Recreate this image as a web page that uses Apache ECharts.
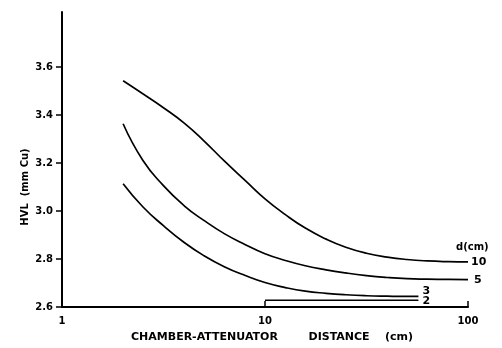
<!DOCTYPE html>
<html>
<head>
<meta charset="utf-8">
<script src="https://cdn.jsdelivr.net/npm/echarts@6/dist/echarts.min.js"></script>
<style>
html,body{margin:0;padding:0;background:#fff;}
#c{width:502px;height:348px;}
</style>
</head>
<body>
<div id="c"></div>
<script>
// ---- data ----
const xTickLabels = ['1', '10', '100'];
const yTickValues = [2.6, 2.8, 3.0, 3.2, 3.4, 3.6];

const x10 = [2, 2.5, 3.16, 4, 5, 6.3, 8, 10, 12.6, 15.8, 20, 25, 31.6, 40, 50, 63, 80, 100];
const y10 = [3.543, 3.489, 3.431, 3.367, 3.293, 3.209, 3.127, 3.051, 2.985, 2.929, 2.883, 2.849, 2.824, 2.808, 2.798, 2.792, 2.789, 2.788];

const x5 = [2, 2.5, 3.16, 4, 5, 6.3, 8, 10, 12.6, 15.8, 20, 25, 31.6, 40, 50, 63, 80, 100];
const y5 = [3.364, 3.212, 3.106, 3.022, 2.961, 2.906, 2.860, 2.822, 2.794, 2.772, 2.755, 2.742, 2.731, 2.723, 2.718, 2.716, 2.715, 2.714];

const x3 = [2, 2.5, 3.16, 4, 5, 6.3, 8, 10, 12.6, 15.8, 20, 25, 31.6, 40, 50, 57];
const y3 = [3.114, 3.018, 2.939, 2.869, 2.814, 2.768, 2.731, 2.702, 2.681, 2.666, 2.657, 2.651, 2.647, 2.645, 2.644, 2.644];

const x2 = [10, 57];
const y2 = [2.628, 2.628];

const seriesNames = ['10', '5', '3', '2'];
const legendTitle = 'd(cm)';
const xTitle = 'CHAMBER-ATTENUATOR        DISTANCE    (cm)';
const yTitle = 'HVL  (mm Cu)';

function pairs(xs, ys) { return xs.map((x, i) => [x, ys[i]]); }

const FONT = '"DejaVu Sans", sans-serif';
const lineStyle = { color: '#000', width: 1.7 };

const chart = echarts.init(document.getElementById('c'), null, { renderer: 'canvas' });
chart.setOption({
  animation: false,
  backgroundColor: '#fff',
  grid: { left: 62, right: 34, top: 12, bottom: 41, outerBoundsMode: 'none', containLabel: false },
  xAxis: {
    type: 'log', logBase: 10, min: 1, max: 100,
    name: xTitle, nameLocation: 'middle', nameGap: 25,
    nameTextStyle: { fontFamily: FONT, fontWeight: 'bold', fontSize: 11, color: '#000', padding: [0, 0, 0, 14] },
    axisLine: { show: true, lineStyle: { color: '#000', width: 2 } },
    axisTick: { show: true, inside: true, length: 6, lineStyle: { color: '#000', width: 1.5 } },
    minorTick: { show: false },
    splitLine: { show: false },
    axisLabel: { fontFamily: FONT, fontWeight: 'bold', fontSize: 10, color: '#000', margin: 9,
      formatter: v => { const s = String(Math.round(v)); return xTickLabels.indexOf(s) >= 0 ? s : ''; } }
  },
  yAxis: {
    type: 'value', min: 2.6, max: 3.83,
    axisLine: { show: true, onZero: false, lineStyle: { color: '#000', width: 2 } },
    axisTick: { show: true, inside: false, length: 6, customValues: yTickValues, lineStyle: { color: '#000', width: 1.5 } },
    splitLine: { show: false },
    axisLabel: { customValues: yTickValues, fontFamily: FONT, fontWeight: 'bold', fontSize: 10, color: '#000', margin: 9,
      formatter: v => v.toFixed(1) }
  },
  graphic: [{
    type: 'text', x: 25, y: 187, rotation: Math.PI / 2,
    style: { text: yTitle, align: 'center', verticalAlign: 'middle',
      font: 'bold 10px ' + FONT, fill: '#000' }
  }],
  series: [
    { name: seriesNames[0], type: 'line', data: pairs(x10, y10), smooth: 0.5, showSymbol: false, symbol: 'none', lineStyle,
      endLabel: { show: true, distance: 0, offset: [-12, -7.5], color: '#000',
        formatter: '{h|' + legendTitle + '}\n{v|' + seriesNames[0] + '}',
        rich: {
          h: { fontFamily: FONT, fontWeight: 'bold', fontSize: 10, lineHeight: 15, color: '#000' },
          v: { fontFamily: FONT, fontWeight: 'bold', fontSize: 11, lineHeight: 15, color: '#000', padding: [0, 0, 0, 15] }
        } } },
    { name: seriesNames[1], type: 'line', data: pairs(x5, y5), smooth: 0.5, showSymbol: false, symbol: 'none', lineStyle,
      endLabel: { show: true, distance: 6, formatter: seriesNames[1], fontFamily: FONT, fontWeight: 'bold', fontSize: 11, color: '#000' } },
    { name: seriesNames[2], type: 'line', data: pairs(x3, y3), smooth: 0.5, showSymbol: false, symbol: 'none', lineStyle,
      endLabel: { show: true, distance: 4, offset: [0, -5], formatter: seriesNames[2], fontFamily: FONT, fontWeight: 'bold', fontSize: 11, color: '#000' } },
    { name: seriesNames[3], type: 'line', data: pairs(x2, y2), showSymbol: false, symbol: 'none', lineStyle: { color: '#000', width: 1.4 },
      endLabel: { show: true, distance: 4, offset: [0, 1], formatter: seriesNames[3], fontFamily: FONT, fontWeight: 'bold', fontSize: 11, color: '#000' } }
  ]
});
</script>
</body>
</html>
